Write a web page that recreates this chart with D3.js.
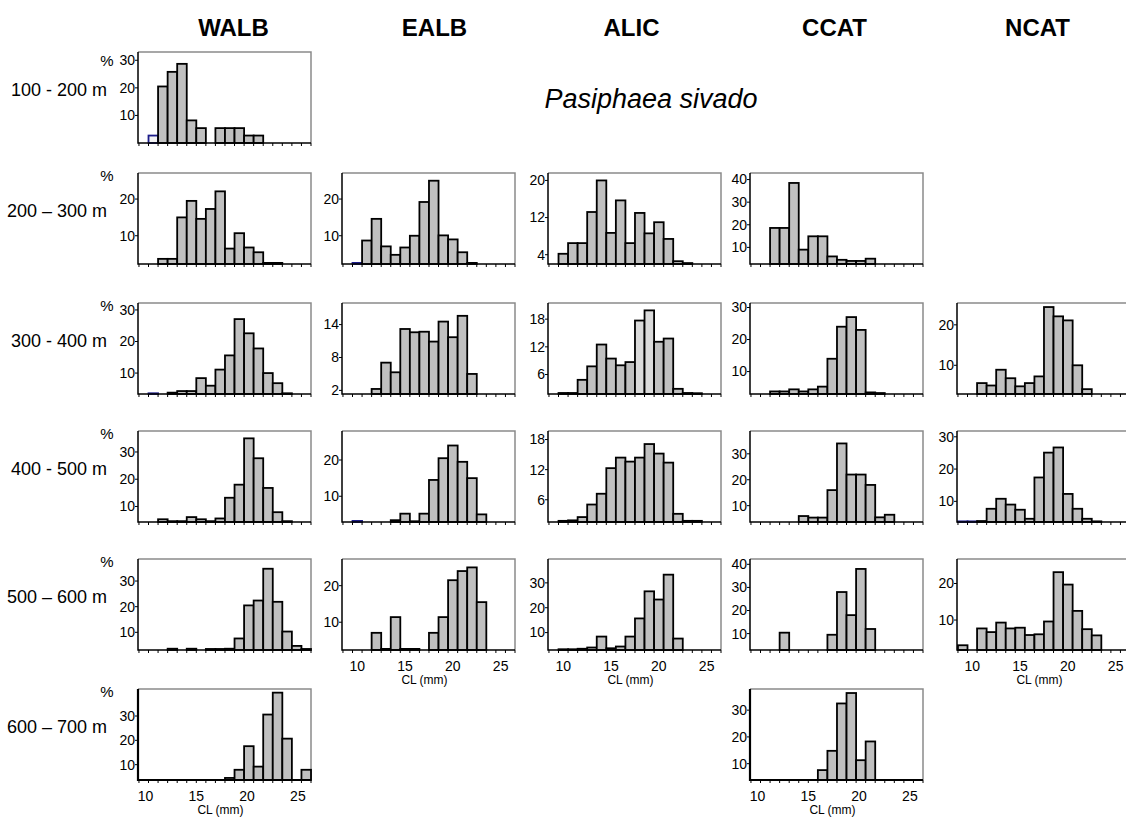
<!DOCTYPE html>
<html lang="en">
<head>
<meta charset="UTF-8">
<title>Pasiphaea sivado - size distributions by area and depth</title>
<script src="https://d3js.org/d3.v7.min.js"></script>
<style>
  body { margin: 0; background: #fff; font-family: Arial, "Liberation Sans", sans-serif; }
  svg text { fill: #000; }
</style>
</head>
<body>
<div id="chart"></div>
<script>
// size classes (CL, mm), one bar each
const sizeClasses = d3.range(9, 27);
const areas = ["WALB", "EALB", "ALIC", "CCAT", "NCAT"];
const depthLabels = ["100 - 200 m", "200 \u2013 300 m", "300 - 400 m", "400 - 500 m", "500 \u2013 600 m", "600 \u2013 700 m"];
const clTicks = [10, 15, 20, 25];

// percentages per size class 9..26 mm
const walb100 = [0, 2.7, 20.5, 25.8, 28.7, 8.2, 5.4, 0, 5.4, 5.4, 5.4, 2.7, 2.7, 0, 0, 0, 0, 0];
const walb200 = [0, 0, 3.7, 3.7, 15.0, 19.5, 14.6, 17.3, 22.1, 6.5, 10.7, 6.8, 5.5, 2.6, 2.6, 0, 0, 0];
const ealb200 = [0, 2.6, 8.7, 14.6, 7.1, 4.8, 6.8, 10.0, 19.2, 25.0, 10.1, 9.0, 5.5, 2.6, 0, 0, 0, 0];
const alic200 = [0, 4.2, 6.5, 6.5, 13.2, 20.0, 8.7, 15.7, 6.5, 13.0, 8.6, 11.0, 7.4, 2.6, 2.2, 0, 0, 0];
const ccat200 = [0, 0, 18.6, 18.6, 38.5, 9.0, 14.9, 14.9, 6.0, 4.5, 4.0, 4.0, 5.0, 0, 0, 0, 0, 0];
const walb300 = [0, 3.6, 0, 3.8, 4.3, 4.3, 8.4, 6.0, 11.1, 15.6, 27.1, 22.6, 17.8, 10.0, 6.8, 3.6, 0, 0];
const ealb300 = [0, 0, 0, 2.26, 7.06, 5.3, 13.2, 12.6, 12.7, 10.9, 14.55, 11.7, 15.6, 5.0, 0, 0, 0, 0];
const alic300 = [0, 2.0, 2.0, 4.85, 7.77, 12.5, 9.46, 8.0, 8.7, 17.7, 19.9, 13.1, 13.8, 2.9, 2.0, 1.95, 0, 0];
const ccat300 = [0, 0, 3.8, 3.8, 4.45, 3.8, 4.45, 5.3, 14, 24, 27, 23, 3.5, 3.3, 0, 0, 0, 0];
const ncat300 = [0, 0, 5.6, 5.0, 8.9, 6.8, 4.8, 5.6, 7.25, 24.4, 22.1, 21.1, 10.0, 4.1, 0, 0, 0, 0];
const walb400 = [0, 0, 5.3, 4.6, 4.6, 6.1, 5.3, 4.6, 5.6, 13.2, 18.0, 35.0, 27.7, 16.8, 7.9, 4.6, 0, 0];
const ealb400 = [0, 3.2, 0, 0, 0, 3.4, 5.2, 3.1, 5.2, 14.5, 20.5, 24, 19.5, 15, 5, 0, 0, 0];
const alic400 = [0, 1.8, 1.9, 2.55, 5.05, 7.2, 12.3, 14.4, 13.6, 14.4, 17.1, 15.2, 13.4, 3.2, 1.8, 1.8, 0, 0];
const ccat400 = [0, 0, 0, 0, 0, 6.0, 5.4, 5.4, 16, 34, 22, 22, 18, 5.5, 6.5, 0, 0, 0];
const ncat400 = [3.8, 3.8, 3.9, 7.7, 10.8, 9.0, 7.4, 4.6, 17.4, 25.1, 26.7, 12.3, 7.7, 4.6, 3.8, 0, 0, 0];
const walb500 = [0, 0, 0, 3.6, 0, 3.6, 0, 3.5, 3.5, 3.6, 7.6, 20.5, 22.4, 34.8, 21.9, 10.3, 4.7, 3.5];
const ealb500 = [0, 0, 0, 7.1, 2.7, 11.4, 2.7, 2.7, 0, 7.1, 11.4, 21.5, 24, 25, 15.5, 0, 0, 0];
const alic500 = [0, 3.3, 3.3, 3.5, 4.0, 8.4, 3.7, 4.4, 8.4, 15.7, 26.6, 23.3, 33.3, 7.6, 0, 0, 0, 0];
const ccat500 = [0, 0, 0, 10.4, 0, 0, 0, 0, 9.5, 28, 18, 38, 12, 0, 0, 0, 0, 0];
const ncat500 = [3.1, 0, 7.7, 6.7, 9.3, 7.7, 7.9, 5.9, 6.1, 9.6, 23.1, 19.7, 12.5, 7.5, 5.8, 0, 0, 0];
const walb600 = [0, 0, 0, 0, 0, 0, 0, 0, 0, 4.55, 7.9, 17.6, 9.2, 30.6, 39.6, 20.7, 0, 7.9];
const ccat600 = [0, 0, 0, 0, 0, 0, 0, 7.6, 14.8, 32.5, 36.4, 11.3, 18.3, 0, 0, 0, 0, 0];

// panel table: row = depth, col = area; y range and labels as printed
const panels = [
  { row: 0, col: 0, values: walb100, yRange: [0, 33], yTicks: [10, 20, 30], outlined: [10] },
  { row: 1, col: 0, values: walb200, yRange: [2.3, 27.1], yTicks: [10, 20] },
  { row: 1, col: 1, values: ealb200, yRange: [2.3, 27.1], yTicks: [10, 20], outlined: [10] },
  { row: 1, col: 2, values: alic200, yRange: [2.0, 21.6], yTicks: [4, 12, 20] },
  { row: 1, col: 3, values: ccat200, yRange: [2.65, 42.9], yTicks: [10, 20, 30, 40] },
  { row: 2, col: 0, values: walb300, yRange: [3.37, 32.2], yTicks: [10, 20, 30], outlined: [10] },
  { row: 2, col: 1, values: ealb300, yRange: [1.34, 17.94], yTicks: [2, 8, 14] },
  { row: 2, col: 2, values: alic300, yRange: [1.78, 21.5], yTicks: [6, 12, 18], light: [18, 19] },
  { row: 2, col: 3, values: ccat300, yRange: [3.0, 31.4], yTicks: [10, 20, 30] },
  { row: 2, col: 4, values: ncat300, yRange: [2.9, 25.4], yTicks: [10, 20] },
  { row: 3, col: 0, values: walb400, yRange: [4.3, 37.7], yTicks: [10, 20, 30] },
  { row: 3, col: 1, values: ealb400, yRange: [2.9, 28.0], yTicks: [10, 20], outlined: [10] },
  { row: 3, col: 2, values: alic400, yRange: [1.57, 19.7], yTicks: [6, 12, 18] },
  { row: 3, col: 3, values: ccat400, yRange: [3.7, 38.8], yTicks: [10, 20, 30] },
  { row: 3, col: 4, values: ncat400, yRange: [3.6, 31.8], yTicks: [10, 20, 30], outlined: [9, 10] },
  { row: 4, col: 0, values: walb500, yRange: [3.1, 38.6], yTicks: [10, 20, 30] },
  { row: 4, col: 1, values: ealb500, yRange: [2.4, 27.3], yTicks: [10, 20] },
  { row: 4, col: 2, values: alic500, yRange: [3.0, 39.6], yTicks: [10, 20, 30] },
  { row: 4, col: 3, values: ccat500, yRange: [2.9, 42.3], yTicks: [10, 20, 30, 40] },
  { row: 4, col: 4, values: ncat500, yRange: [1.8, 26.7], yTicks: [10, 20] },
  { row: 5, col: 0, values: walb600, yRange: [3.7, 41.1], yTicks: [10, 20, 30] },
  { row: 5, col: 3, values: ccat600, yRange: [3.9, 37.9], yTicks: [10, 20, 30] }
];

const width = 1126, height = 818;
const colX = [138, 342, 548, 750, 957];
const rowY = [52, 173, 303, 431, 559, 689];
const pw = 173, ph = 91;

const svg = d3.select("#chart").append("svg")
  .attr("width", width).attr("height", height);

// bar scale is shared; the last row has its tick labels spread a bit wider
const x = d3.scaleLinear().domain([8.4, 26.5]).range([0, pw]);
const xLabelRow6 = d3.scaleLinear().domain([9.26, 26.29]).range([0, pw]);

// column headers
svg.selectAll(".area").data(areas).enter().append("text")
  .attr("x", (d, i) => colX[i] + pw / 2 + [9, 6, -3, -2, -6][i])
  .attr("y", 36)
  .attr("text-anchor", "middle")
  .style("font-size", "24px").style("font-weight", "bold")
  .text(d => d);

// depth labels on the left
svg.selectAll(".depth").data(depthLabels).enter().append("text")
  .attr("x", 107)
  .attr("y", (d, i) => rowY[i] + 38)
  .attr("dy", "0.35em")
  .attr("text-anchor", "end")
  .style("font-size", "18px")
  .text(d => d);

svg.append("text")
  .attr("x", 651).attr("y", 108)
  .attr("text-anchor", "middle")
  .style("font-size", "27px").style("font-style", "italic")
  .text("Pasiphaea sivado");

// lowest panel of each column carries the CL axis labels
const bottomRow = d3.rollup(panels, v => d3.max(v, p => p.row), p => p.col);

panels.forEach(p => {
  const g = svg.append("g")
    .attr("transform", `translate(${colX[p.col]},${rowY[p.row]})`);
  const y = d3.scaleLinear().domain(p.yRange).range([ph, 0]);
  const axisW = p.row === 5 ? 2.2 : 1.5;

  // grey frame top/right
  g.append("path")
    .attr("d", `M0,0H${pw}V${ph}`)
    .attr("fill", "none").attr("stroke", "#8a8a8a").attr("stroke-width", 1.5);

  const bars = sizeClasses
    .map((c, i) => ({ c, v: p.values[i] }))
    .filter(d => d.v > p.yRange[0]);

  g.selectAll("rect").data(bars).enter().append("rect")
    .attr("x", d => x(d.c - 0.5))
    .attr("width", d => x(d.c + 0.5) - x(d.c - 0.5))
    .attr("y", d => y(d.v))
    .attr("height", d => y(p.yRange[0]) - y(d.v))
    .attr("fill", d => (p.outlined || []).includes(d.c) ? "#f2f2f2"
      : (p.light || []).includes(d.c) ? "#dadada" : "#c0c0c0")
    .attr("stroke", d => (p.outlined || []).includes(d.c) ? "#1c1c8a" : "#000")
    .attr("stroke-width", 1.8);

  // black axes left/bottom
  g.append("path")
    .attr("d", `M0,0V${ph}H${pw}`)
    .attr("fill", "none").attr("stroke", "#000").attr("stroke-width", axisW);

  // minor ticks at every class edge
  g.selectAll(".xt").data(d3.range(8.5, 26.6, 1)).enter().append("line")
    .attr("x1", d => x(d)).attr("x2", d => x(d))
    .attr("y1", ph).attr("y2", ph + 3)
    .attr("stroke", "#000").attr("stroke-width", 1);

  // y labels
  g.selectAll(".yt").data(p.yTicks).enter().append("line")
    .attr("x1", -3).attr("x2", 0)
    .attr("y1", d => y(d)).attr("y2", d => y(d))
    .attr("stroke", "#000").attr("stroke-width", 1);
  g.selectAll(".yl").data(p.yTicks).enter().append("text")
    .attr("x", -3)
    .attr("y", d => y(d))
    .attr("dy", "0.35em")
    .attr("text-anchor", "end")
    .style("font-size", "14px")
    .text(d => d);

  if (p.col === 0) {
    g.append("text")
      .attr("x", -31).attr("y", p.row === 0 ? 9 : 3)
      .attr("dy", "0.35em")
      .attr("text-anchor", "middle")
      .style("font-size", "15px")
      .text("%");
  }

  if (bottomRow.get(p.col) === p.row) {
    const lx = p.row === 5 ? xLabelRow6 : x;
    g.selectAll(".xl").data(clTicks).enter().append("text")
      .attr("x", d => lx(d))
      .attr("y", ph + 16)
      .attr("dy", "0.35em")
      .attr("text-anchor", "middle")
      .style("font-size", "14px")
      .text(d => d);
    g.append("text")
      .attr("x", pw / 2 - 4)
      .attr("y", ph + 30)
      .attr("dy", "0.35em")
      .attr("text-anchor", "middle")
      .style("font-size", "12px")
      .text("CL (mm)");
  }
});
</script>
</body>
</html>
